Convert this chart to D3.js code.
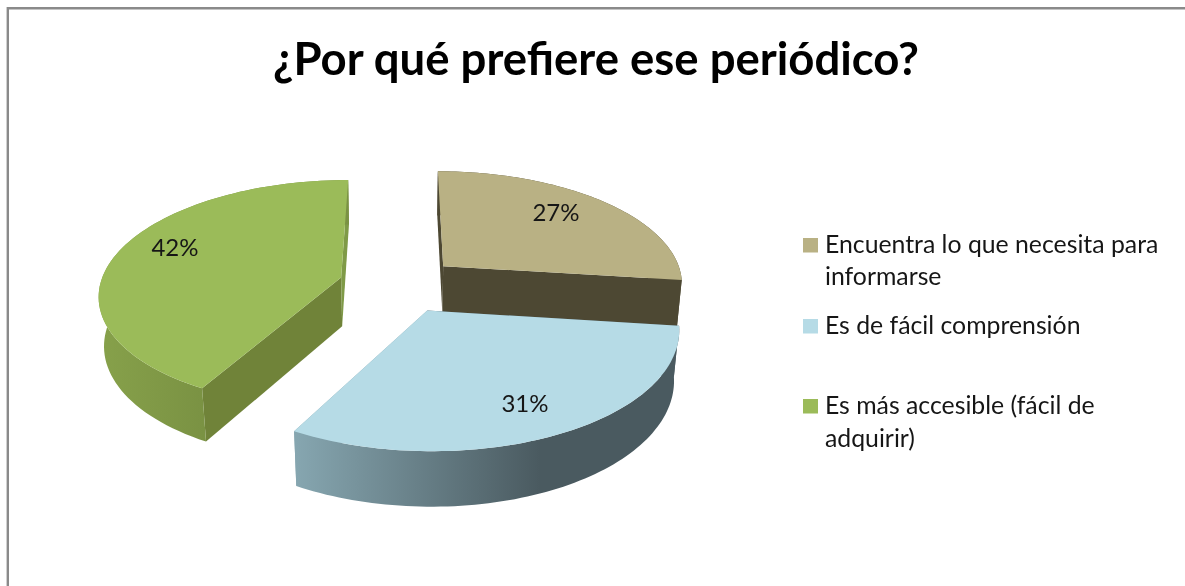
<!DOCTYPE html>
<html lang="es">
<head>
<meta charset="utf-8">
<script src="https://cdn.jsdelivr.net/npm/d3@7"></script>
<style>
html,body{margin:0;padding:0;background:#fff;overflow:hidden}
svg{display:block;filter:blur(0.55px)}
text{font-family:Lato,"Open Sans",sans-serif;fill:#161616}
</style>
</head>
<body>
<svg id="chart" width="1185" height="586"></svg>
<script>
// ---- data ----
const chartTitle = "¿Por qué prefiere ese periódico?";
const categories = ["Encuentra lo que necesita para informarse", "Es de fácil comprensión", "Es más accesible (fácil de adquirir)"];
const legendLines = [["Encuentra lo que necesita para", "informarse"], ["Es de fácil comprensión"], ["Es más accesible (fácil de", "adquirir)"]];
const values = [27, 31, 42];

// ---- styles ----
const topColors = ["#b9b184", "#b6dbe6", "#9bbb59"];
const wallFrom = ["#4d4833", "#86a6b0", "#86a04a"];
const wallTo = ["#4d4833", "#4a5a60", "#7a9243"];
const wallGradX = [[440, 680], [296, 540], [105, 205]];
const startFaceColors = ["#4d4833", "#4a5a60", "#708339"];
const endFaceColors = ["#4d4833", "#86a6b0", "#7f9a47"];
const labelCenters = [[556, 212], [525, 403], [175, 247]];

// ---- perspective model of the pie ----
const view = {cx: 399, cy: 284.5, A: 241, B: 113, k: 0.14, depth: 50, m: 0.018, explode: 0.25};
function project(u, v, z) {
  const w = 1 - view.k * v + view.m * z;
  return [view.cx + view.A * u / w, view.cy + (view.B * v + view.depth * z) / w];
}

const svg = d3.select("#chart");
const defs = svg.append("defs");
const closed = d3.line().curve(d3.curveLinearClosed);

// frame
svg.append("path").attr("d", closed([[7.8, 8.2], [1195, 8.2], [1195, 600], [7.8, 600]]))
  .attr("fill", "none").attr("stroke", "#8a8a8a").attr("stroke-width", 2.4);

// title
svg.append("text").attr("x", 596).attr("y", 75).attr("text-anchor", "middle")
  .attr("font-size", 45.5).attr("font-weight", 700).style("fill", "#000").text(chartTitle);

// slices
const arcs = d3.pie().sort(null).startAngle(0).endAngle(2 * Math.PI)(values);
const drawOrder = [0, 2, 1];

function sliceGeometry(d) {
  const mid = (d.startAngle + d.endAngle) / 2;
  const ox = view.explode * Math.sin(mid), oy = -view.explode * Math.cos(mid);
  const pt = (a, z, r = 1) => project(ox + r * Math.sin(a), oy - r * Math.cos(a), z);
  const samples = d3.range(0, 81).map(i => d.startAngle + (d.endAngle - d.startAngle) * i / 80);
  return {pt, samples};
}

drawOrder.forEach(i => {
  const d = arcs[i];
  const {pt, samples} = sliceGeometry(d);
  const g = svg.append("g").attr("class", "slice");
  const gid = "wall" + i;
  const grad = defs.append("linearGradient").attr("id", gid).attr("gradientUnits", "userSpaceOnUse")
    .attr("x1", wallGradX[i][0]).attr("x2", wallGradX[i][1]).attr("y1", 0).attr("y2", 0);
  grad.append("stop").attr("offset", 0).attr("stop-color", wallFrom[i]);
  grad.append("stop").attr("offset", 1).attr("stop-color", wallTo[i]);

  // radial faces
  g.append("path").attr("fill", startFaceColors[i])
    .attr("d", closed([pt(0, 0, 0), pt(d.startAngle, 0), pt(d.startAngle, 1), pt(0, 1, 0)]));
  g.append("path").attr("fill", endFaceColors[i])
    .attr("d", closed([pt(0, 0, 0), pt(d.endAngle, 0), pt(d.endAngle, 1), pt(0, 1, 0)]));
  // outer wall
  const wall = samples.map(a => pt(a, 0)).concat(samples.slice().reverse().map(a => pt(a, 1)));
  g.append("path").attr("fill", `url(#${gid})`).attr("d", closed(wall));
  // top face
  const top = [pt(0, 0, 0)].concat(samples.map(a => pt(a, 0)));
  g.append("path").attr("fill", topColors[i]).attr("d", closed(top));
});

// percentage labels
const total = d3.sum(values);
arcs.forEach((d, i) => {
  svg.append("text").attr("class", "pct").attr("x", labelCenters[i][0]).attr("y", labelCenters[i][1] + 8.5)
    .attr("text-anchor", "middle").attr("font-size", 24)
    .text(d3.format(".0%")(d.value / total));
});

// legend
const legendX = 803, legendTextX = 825, legendSwatch = 15;
const legendBaselines = [[253, 285], [334], [414, 447]];
categories.forEach((c, i) => {
  const g = svg.append("g").attr("class", "legend-item");
  g.append("rect").attr("x", legendX).attr("y", legendBaselines[i][0] - 15)
    .attr("width", legendSwatch).attr("height", 14.5).attr("fill", topColors[i]);
  legendLines[i].forEach((t, j) => {
    g.append("text").attr("x", legendTextX).attr("y", legendBaselines[i][j])
      .attr("font-size", 24.8).text(t);
  });
});
</script>
</body>
</html>
